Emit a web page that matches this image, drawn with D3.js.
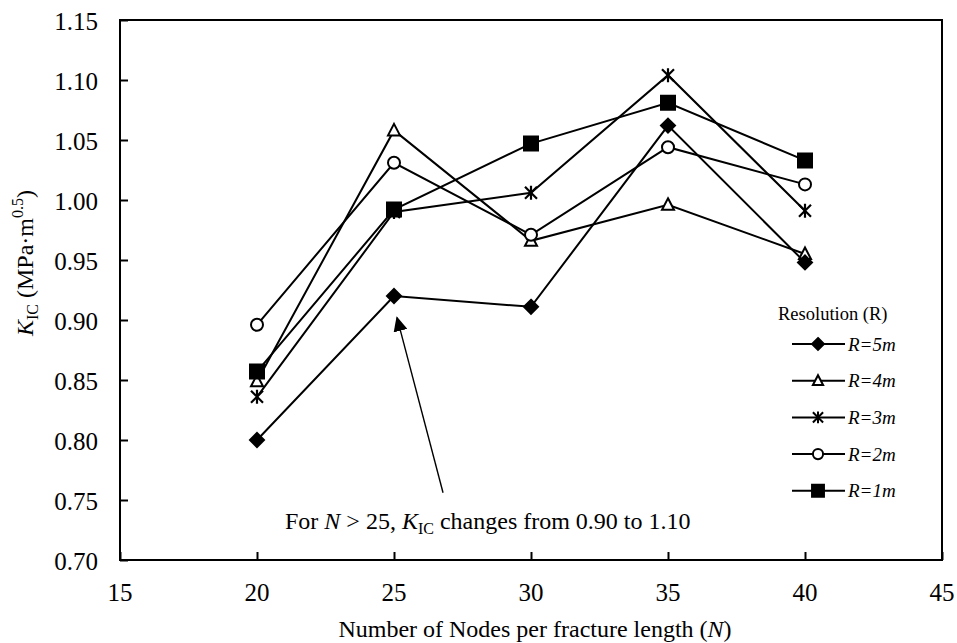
<!DOCTYPE html>
<html>
<head>
<meta charset="utf-8">
<script src="https://cdn.jsdelivr.net/npm/d3@7"></script>
<style>
  html, body { margin: 0; padding: 0; background: #fff; }
  svg { display: block; }
  svg text { font-family: "Liberation Serif", "Times New Roman", "DejaVu Serif", serif; }
</style>
</head>
<body>
<svg id="chart" width="957" height="643"></svg>
<script>
// Fracture toughness K_IC vs. number of nodes per fracture length, per grid resolution
const nodes = [20, 25, 30, 35, 40];
const seriesNames = ["R=4m", "R=3m", "R=2m", "R=1m", "R=5m"];
const r5m = [0.800, 0.920, 0.911, 1.062, 0.948];
const r4m = [0.849, 1.058, 0.966, 0.996, 0.955];
const r3m = [0.836, 0.990, 1.006, 1.104, 0.991];
const r2m = [0.896, 1.031, 0.971, 1.044, 1.013];
const r1m = [0.857, 0.992, 1.047, 1.081, 1.033];
const legendOrder = ["R=5m", "R=4m", "R=3m", "R=2m", "R=1m"];
const xTicks = [15, 20, 25, 30, 35, 40, 45];
const yTicks = [0.70, 0.75, 0.80, 0.85, 0.90, 0.95, 1.00, 1.05, 1.10, 1.15];
// arrow: tail and head in data units
const arrowFrom = [26.79, 0.756];
const arrowTo = [25.11, 0.902];

const valuesByName = { "R=5m": r5m, "R=4m": r4m, "R=3m": r3m, "R=2m": r2m, "R=1m": r1m };
const markerByName = { "R=5m": "diamond", "R=4m": "triangle", "R=3m": "star", "R=2m": "circle", "R=1m": "square" };

const svg = d3.select("#chart");
const plotL = 120, plotR = 942, plotT = 20, plotB = 560;
const x = d3.scaleLinear().domain([15, 45]).range([plotL, plotR]);
const y = d3.scaleLinear().domain([0.70, 1.15]).range([plotB, plotT]);

// frame
svg.append("rect").attr("x", plotL).attr("y", plotT).attr("width", plotR - plotL).attr("height", plotB - plotT)
  .attr("fill", "none").attr("stroke", "#000").attr("stroke-width", 2);

// axes with inward ticks
const xAxis = svg.append("g").attr("transform", `translate(0,${plotB})`)
  .call(d3.axisTop(x).tickValues(xTicks).tickSize(8).tickFormat(""));
xAxis.select(".domain").remove();
xAxis.selectAll("line").attr("stroke-width", 2);
const yAxis = svg.append("g").attr("transform", `translate(${plotL},0)`)
  .call(d3.axisRight(y).tickValues(yTicks).tickSize(8).tickFormat(""));
yAxis.select(".domain").remove();
yAxis.selectAll("line").attr("stroke-width", 2);

// tick labels
svg.append("g").selectAll("text").data(xTicks).join("text")
  .attr("x", d => x(d)).attr("y", 601).attr("text-anchor", "middle")
  .attr("font-size", 25).text(d => d);
svg.append("g").selectAll("text").data(yTicks).join("text")
  .attr("x", 98).attr("y", d => y(d) + 9.5).attr("text-anchor", "end")
  .attr("font-size", 25).text(d => d.toFixed(2));

// axis titles
const xt = svg.append("text").attr("x", 535).attr("y", 637)
  .attr("text-anchor", "middle").attr("font-size", 24);
xt.append("tspan").text("Number of Nodes per fracture length  (");
xt.append("tspan").attr("font-style", "italic").text("N");
xt.append("tspan").text(")");

const yt = svg.append("text").attr("transform", "translate(33,263) rotate(-90)")
  .attr("text-anchor", "middle").attr("font-size", 24);
yt.append("tspan").attr("font-style", "italic").text("K");
yt.append("tspan").attr("font-size", 16).attr("dy", 5).text("IC");
yt.append("tspan").attr("dy", -5).text(" (MPa·m");
yt.append("tspan").attr("font-size", 16).attr("dy", -10).text("0.5");
yt.append("tspan").attr("dy", 10).text(")");

// marker shapes
function markerPath(type, s) {
  switch (type) {
    case "diamond": return `M0,${-7*s}L${7*s},0L0,${7*s}L${-7*s},0Z`;
    case "square": return `M${-7*s},${-7*s}H${7*s}V${7*s}H${-7*s}Z`;
    case "triangle": return `M0,${-6.5*s}L${6*s},${5*s}H${-6*s}Z`;
    case "circle": return d3.arc()({innerRadius: 0, outerRadius: 6*s, startAngle: 0, endAngle: 2*Math.PI});
    case "star": return `M${-6*s},${-6*s}L${6*s},${6*s}M${6*s},${-6*s}L${-6*s},${6*s}M0,${-7*s}V${7*s}`;
  }
}
function markerFill(type) {
  return (type === "diamond" || type === "square") ? "#000" : "#fff";
}

const line = d3.line().x(d => x(d[0])).y(d => y(d[1]));

seriesNames.forEach(name => {
  const vals = valuesByName[name];
  const pts = nodes.map((n, i) => [n, vals[i]]);
  const type = markerByName[name];
  const g = svg.append("g");
  g.append("path").attr("d", line(pts)).attr("fill", "none").attr("stroke", "#000").attr("stroke-width", 2);
  g.selectAll("path.m").data(pts).join("path").attr("class", "m")
    .attr("transform", d => `translate(${x(d[0])},${y(d[1])})`)
    .attr("d", markerPath(type, 1))
    .attr("fill", markerFill(type)).attr("stroke", "#000").attr("stroke-width", type === "star" ? 2.2 : 2);
});

// annotation arrow
svg.append("defs").append("marker").attr("id", "ah").attr("viewBox", "0 0 10 10")
  .attr("refX", 9).attr("refY", 5).attr("markerWidth", 15).attr("markerHeight", 14)
  .attr("markerUnits", "userSpaceOnUse").attr("orient", "auto").attr("preserveAspectRatio", "none")
  .append("path").attr("d", "M0,0L10,5L0,10Z").attr("fill", "#000");
svg.append("line")
  .attr("x1", x(arrowFrom[0])).attr("y1", y(arrowFrom[1]))
  .attr("x2", x(arrowTo[0])).attr("y2", y(arrowTo[1]))
  .attr("stroke", "#000").attr("stroke-width", 1.4).attr("marker-end", "url(#ah)");

const ann = svg.append("text").attr("x", 285).attr("y", 529).attr("font-size", 24);
ann.append("tspan").text("For ");
ann.append("tspan").attr("font-style", "italic").text("N");
ann.append("tspan").text(" > 25, ");
ann.append("tspan").attr("font-style", "italic").text("K");
ann.append("tspan").attr("font-size", 16).attr("dy", 5).text("IC");
ann.append("tspan").attr("dy", -5).text(" changes from 0.90 to 1.10");

// legend
const lg = svg.append("g");
lg.append("text").attr("x", 778).attr("y", 320).attr("font-size", 18.5).text("Resolution (R)");
legendOrder.forEach((name, i) => {
  const yy = 344 + i * 36.7;
  const type = markerByName[name];
  lg.append("line").attr("x1", 792).attr("x2", 845).attr("y1", yy).attr("y2", yy)
    .attr("stroke", "#000").attr("stroke-width", 2);
  lg.append("path").attr("transform", `translate(818,${yy})`).attr("d", markerPath(type, 0.85))
    .attr("fill", markerFill(type)).attr("stroke", "#000").attr("stroke-width", 2);
  lg.append("text").attr("x", 848).attr("y", yy + 6.5).attr("font-size", 19)
    .attr("font-style", "italic").text(name);
});
</script>
</body>
</html>
